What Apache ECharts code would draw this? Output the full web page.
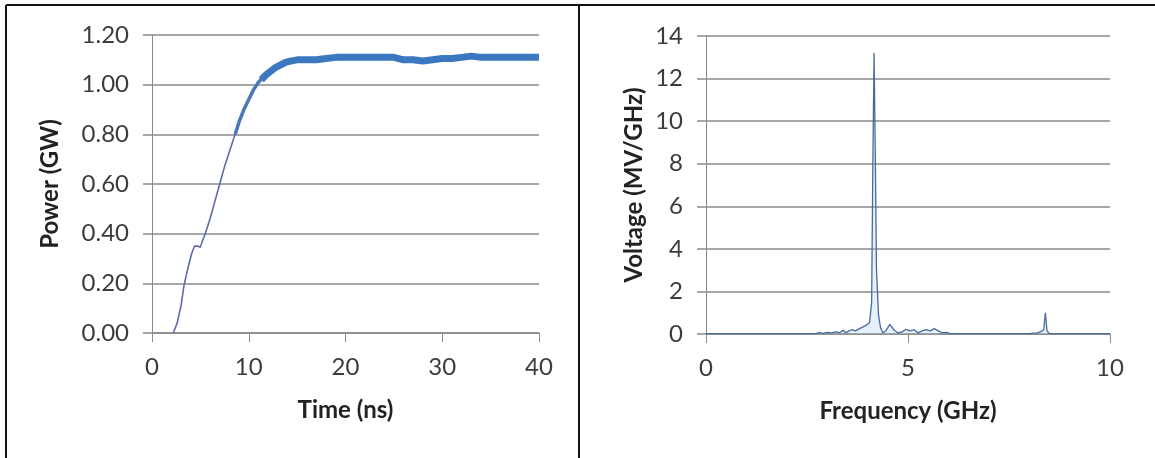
<!DOCTYPE html>
<html>
<head>
<meta charset="utf-8">
<script src="https://cdn.jsdelivr.net/npm/echarts@6/dist/echarts.min.js"></script>
<style>
html,body{margin:0;padding:0;background:#fff;}
#chart{width:1155px;height:458px;}
</style>
</head>
<body>
<div id="chart"></div>
<script>
// ---- Left panel: power vs time ----
const timeTicks = [0, 10, 20, 30, 40];
const powerTicks = ["0.00", "0.20", "0.40", "0.60", "0.80", "1.00", "1.20"];

// thin rising part
const riseTime  = [2.2, 2.6, 3.0, 3.3, 3.7, 4.1, 4.4, 4.7, 5.0, 5.2, 5.5, 6.0, 6.5, 7.0, 7.5, 8.0, 8.5, 8.8];
const risePower = [0.00, 0.04, 0.11, 0.19, 0.26, 0.32, 0.35, 0.35, 0.345, 0.37, 0.40, 0.46, 0.53, 0.60, 0.67, 0.73, 0.79, 0.82];

// medium thickness transition
const midTime  = [8.6, 9.0, 9.5, 10.0, 10.5, 11.0, 11.5];
const midPower = [0.80, 0.85, 0.90, 0.94, 0.98, 1.01, 1.03];

// thick noisy plateau
const plateauTime  = [11.3, 11.8, 12.3, 12.8, 13.3, 13.8, 14.3, 15, 16, 17, 18, 19, 20, 21, 22, 23, 24, 25, 26, 27, 28, 29, 30, 31, 32, 33, 34, 35, 36, 37, 38, 39, 40];
const plateauPower = [1.02, 1.04, 1.055, 1.07, 1.08, 1.09, 1.095, 1.10, 1.10, 1.10, 1.105, 1.11, 1.11, 1.11, 1.11, 1.11, 1.11, 1.11, 1.10, 1.10, 1.095, 1.10, 1.105, 1.105, 1.11, 1.115, 1.11, 1.11, 1.11, 1.11, 1.11, 1.11, 1.11];

// ---- Right panel: spectrum ----
const freqTicks = [0, 5, 10];
const voltTicks = [0, 2, 4, 6, 8, 10, 12, 14];
const freq = [0, 1, 2, 2.7, 2.8, 2.9, 3.0, 3.1, 3.2, 3.3, 3.4, 3.45, 3.5, 3.6, 3.7, 3.8, 3.9, 4.0, 4.05, 4.1, 4.13, 4.16, 4.19, 4.22, 4.27, 4.32, 4.38, 4.45, 4.55, 4.65, 4.75, 4.85, 4.95, 5.05, 5.15, 5.25, 5.35, 5.45, 5.55, 5.65, 5.75, 5.85, 5.95, 6.05, 7, 8, 8.2, 8.3, 8.36, 8.4, 8.44, 8.5, 9, 10];
const volt = [0.02, 0.02, 0.02, 0.02, 0.06, 0.03, 0.08, 0.05, 0.10, 0.06, 0.18, 0.05, 0.10, 0.20, 0.15, 0.25, 0.35, 0.45, 0.55, 1.5, 8.0, 13.2, 8.5, 3.0, 0.9, 0.3, 0.05, 0.15, 0.45, 0.20, 0.05, 0.10, 0.22, 0.15, 0.20, 0.05, 0.15, 0.20, 0.15, 0.25, 0.15, 0.05, 0.08, 0.02, 0.02, 0.02, 0.05, 0.12, 0.20, 1.0, 0.15, 0.02, 0.02, 0.02];

const zip = (a, b) => a.map((v, i) => [v, b[i]]);

const FONT = 'Lato';
const gridColor = '#8a8a8a';
const labelColor = '#3c3c3c';

function yAxisCfg(gridIndex, min, max, interval, name, nameGap, fmt) {
  return {
    type: 'value', gridIndex, min, max, interval,
    name, nameLocation: 'middle', nameGap,
    nameTextStyle: {fontFamily: FONT, fontSize: 24, fontWeight: 'bold', color: '#222'},
    axisLine: {show: true, lineStyle: {color: gridColor, width: 1}},
    axisTick: {show: true, length: 9, lineStyle: {color: gridColor, width: 1.5}},
    axisLabel: {fontFamily: FONT, fontSize: 24, color: labelColor, margin: 23, formatter: fmt},
    splitLine: {show: true, lineStyle: {color: gridColor, width: 1.5}}
  };
}
function xAxisCfg(gridIndex, min, max, interval, name) {
  return {
    type: 'value', gridIndex, min, max, interval,
    name, nameLocation: 'middle', nameGap: 65,
    nameTextStyle: {fontFamily: FONT, fontSize: 24, fontWeight: 'bold', color: '#222'},
    axisLine: {show: true, onZero: false, lineStyle: {color: gridColor, width: 1.5}},
    axisTick: {show: true, length: 9, lineStyle: {color: gridColor, width: 1}},
    axisLabel: {fontFamily: FONT, fontSize: 24, color: labelColor, margin: 22},
    splitLine: {show: false}
  };
}

const chart = echarts.init(document.getElementById('chart'), null, {renderer: 'canvas'});
chart.setOption({
  backgroundColor: '#fff',
  animation: false,
  grid: [
    {left: 152, top: 35, width: 387, height: 298},
    {left: 706, top: 36, width: 404, height: 298}
  ],
  xAxis: [
    xAxisCfg(0, timeTicks[0], timeTicks[timeTicks.length - 1], 10, 'Time (ns)'),
    xAxisCfg(1, freqTicks[0], freqTicks[freqTicks.length - 1], 5, 'Frequency (GHz)')
  ],
  yAxis: [
    yAxisCfg(0, 0, 1.2, 0.2, 'Power (GW)', 90, v => Number(v).toFixed(2)),
    yAxisCfg(1, voltTicks[0], voltTicks[voltTicks.length - 1], 2, 'Voltage (MV/GHz)', 60, v => String(v))
  ],
  series: [
    {type: 'line', xAxisIndex: 0, yAxisIndex: 0, data: zip(riseTime, risePower), showSymbol: false,
     lineStyle: {color: '#5f6aaa', width: 1.6}},
    {type: 'line', xAxisIndex: 0, yAxisIndex: 0, data: zip(midTime, midPower), showSymbol: false,
     lineStyle: {color: '#4a78b8', width: 3.5}},
    {type: 'line', xAxisIndex: 0, yAxisIndex: 0, data: zip(plateauTime, plateauPower), showSymbol: false,
     lineStyle: {color: '#3c78c0', width: 7}},
    {type: 'line', xAxisIndex: 1, yAxisIndex: 1, data: zip(freq, volt), showSymbol: false,
     lineStyle: {color: '#4a6a9c', width: 1.3},
     areaStyle: {color: 'rgba(170,210,240,0.45)'}}
  ],
  graphic: [
    {type: 'line', shape: {x1: 6, y1: 5, x2: 1155, y2: 5}, style: {stroke: '#111', lineWidth: 2}},
    {type: 'line', shape: {x1: 6, y1: 5, x2: 6, y2: 458}, style: {stroke: '#111', lineWidth: 2}},
    {type: 'line', shape: {x1: 579, y1: 5, x2: 579, y2: 458}, style: {stroke: '#111', lineWidth: 2}}
  ]
});
</script>
</body>
</html>
